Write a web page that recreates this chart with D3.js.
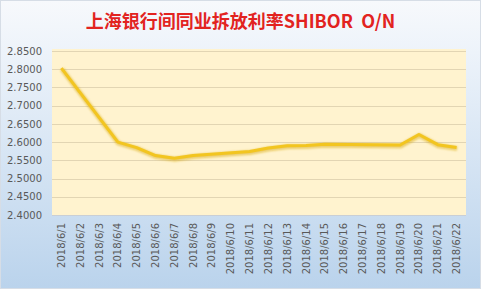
<!DOCTYPE html>
<html>
<head>
<meta charset="utf-8">
<script src="https://cdn.jsdelivr.net/npm/d3@7"></script>
<style>
  body { margin: 0; padding: 0; }
  svg { display: block; }
</style>
</head>
<body>
<div class="chart-area"></div>
<script>
// dates on the category axis
const dates = ["2018/6/1", "2018/6/2", "2018/6/3", "2018/6/4", "2018/6/5", "2018/6/6",
    "2018/6/7", "2018/6/8", "2018/6/9", "2018/6/10", "2018/6/11", "2018/6/12",
    "2018/6/13", "2018/6/14", "2018/6/15", "2018/6/16", "2018/6/17", "2018/6/18",
    "2018/6/19", "2018/6/20", "2018/6/21", "2018/6/22"];
// SHIBOR O/N, null on non-trading days (line just connects across them)
const rates = [2.803, null, null, 2.600, 2.585, 2.563, 2.556, 2.563, null, null, 2.574,
    2.584, 2.590, 2.591, 2.594, null, null, null, 2.592, 2.621, 2.593, 2.585];
const yTicks = [2.40, 2.45, 2.50, 2.55, 2.60, 2.65, 2.70, 2.75, 2.80, 2.85];

const width = 481;
const height = 289;
const margin = { top: 51, right: 15, bottom: 74, left: 52 };

const svg = d3.select(".chart-area")
    .append("svg")
    .attr("width", width)
    .attr("height", height);

const defs = svg.append("defs");
const bg = defs.append("linearGradient")
    .attr("id", "bg")
    .attr("x1", 0).attr("y1", 0).attr("x2", 0).attr("y2", 1);
bg.append("stop").attr("offset", "0%").attr("stop-color", "#f7f9fc");
bg.append("stop").attr("offset", "18%").attr("stop-color", "#edf3fa");
bg.append("stop").attr("offset", "100%").attr("stop-color", "#bad3ec");

const glow = defs.append("filter").attr("id", "glow")
    .attr("x", "-10%").attr("y", "-10%").attr("width", "120%").attr("height", "130%");
glow.append("feGaussianBlur").attr("stdDeviation", 1.2);

svg.append("rect")
    .attr("x", 0.5).attr("y", 0.5)
    .attr("width", width - 1).attr("height", height - 1)
    .attr("fill", "url(#bg)")
    .attr("stroke", "#d6dde6");

const x = d3.scaleBand()
    .domain(dates)
    .range([margin.left, width - margin.right]);

const y = d3.scaleLinear()
    .domain([2.4, 2.85])
    .range([height - margin.bottom, margin.top]);

// plot area
svg.append("rect")
    .attr("x", margin.left)
    .attr("y", margin.top - 2)
    .attr("width", width - margin.left - margin.right)
    .attr("height", height - margin.bottom - margin.top + 2)
    .attr("fill", "#fff3cf");

// gridlines
svg.append("g")
    .selectAll("line")
    .data(yTicks)
    .join("line")
    .attr("x1", margin.left)
    .attr("x2", width - margin.right)
    .attr("y1", d => Math.round(y(d)) + 0.5)
    .attr("y2", d => Math.round(y(d)) + 0.5)
    .attr("stroke", d => d === 2.4 ? "#c9cfd6" : "#e2d5b3")
    .attr("stroke-width", 1);

// y labels
const yAxis = svg.append("g")
    .attr("transform", `translate(${margin.left - 7},0)`)
    .call(d3.axisLeft(y).tickValues(yTicks).tickFormat(d3.format(".4f")).tickSize(0));
yAxis.select(".domain").remove();
yAxis.selectAll("text")
    .attr("fill", "#595959")
    .style("font-family", "DejaVu Sans")
    .style("font-size", "10px");

// x labels
const xAxis = svg.append("g")
    .attr("transform", `translate(0,${height - margin.bottom})`)
    .call(d3.axisBottom(x).tickSize(0));
xAxis.select(".domain").remove();
xAxis.selectAll("text")
    .attr("fill", "#595959")
    .style("font-family", "DejaVu Sans")
    .style("font-size", "10px")
    .attr("text-anchor", "end")
    .attr("transform", "rotate(-90)")
    .attr("x", -8)
    .attr("y", 0)
    .attr("dy", "0.35em");

// line
const pts = dates.map((d, i) => ({ date: d, value: rates[i] }))
    .filter(d => d.value !== null);

const line = d3.line()
    .x(d => x(d.date) + x.bandwidth() / 2)
    .y(d => y(d.value));

svg.append("path")
    .datum(pts)
    .attr("fill", "none")
    .attr("stroke", "#d9a90c")
    .attr("stroke-opacity", 0.55)
    .attr("stroke-width", 4.5)
    .attr("stroke-linejoin", "round")
    .attr("filter", "url(#glow)")
    .attr("transform", "translate(0.5,1)")
    .attr("d", line);

svg.append("path")
    .datum(pts)
    .attr("fill", "none")
    .attr("stroke", "#f2c520")
    .attr("stroke-width", 3)
    .attr("stroke-linejoin", "round")
    .attr("d", line);

// title
svg.append("text")
    .attr("x", width / 2)
    .attr("y", 28)
    .attr("text-anchor", "middle")
    .attr("fill", "#e2231f")
    .style("font-family", "'Noto Sans CJK SC', sans-serif")
    .style("font-size", "18px")
    .style("font-weight", "bold")
    .style("white-space", "pre")
    .text("上海银行间同业拆放利率SHIBOR  O/N");
</script>
</body>
</html>
